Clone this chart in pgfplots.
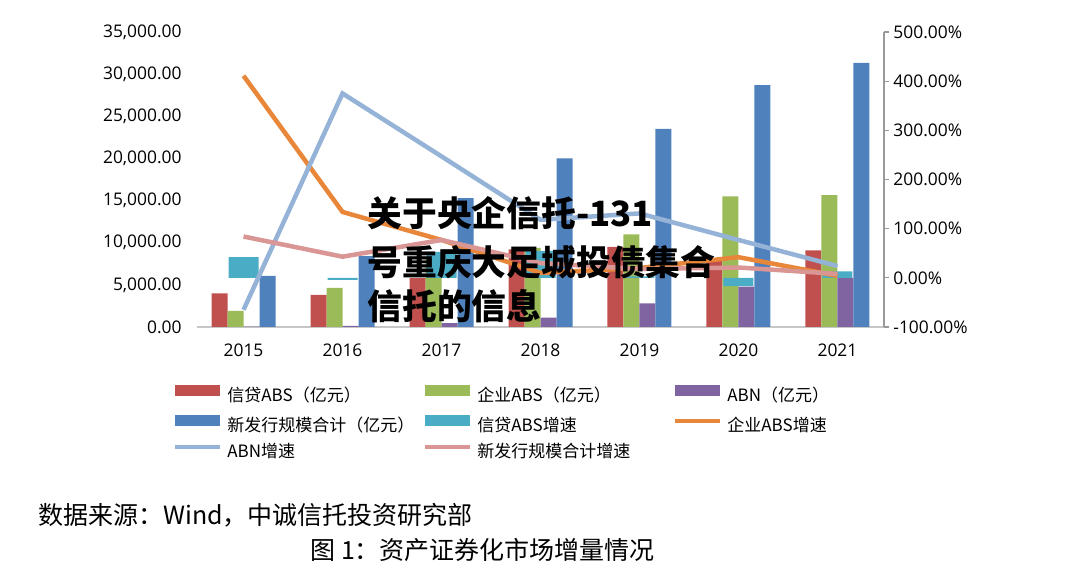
\documentclass[border=0pt]{standalone}
\usepackage{fontspec}
\setmainfont{Noto Sans CJK SC}
\newfontfamily\numfont{Open Sans}
\usepackage{pgfplots}
\pgfplotsset{compat=1.18}
\definecolor{cRed}{HTML}{C0504D}
\definecolor{cGreen}{HTML}{9BBB59}
\definecolor{cPurple}{HTML}{8064A2}
\definecolor{cBlue}{HTML}{4F81BD}
\definecolor{cTeal}{HTML}{4BACC6}
\definecolor{cOrange}{HTML}{E8873A}
\definecolor{cAbn}{HTML}{95B3D7}
\definecolor{cPink}{HTML}{D99694}
\pgfplotsset{
  barleg/.style={legend image code/.code={\fill[##1] (0pt,0.3pt) rectangle (22.5pt,5.8pt);}},
  lineleg/.style={legend image code/.code={\draw[##1] (0pt,3pt) -- (22.5pt,3pt);}},
}
\newcommand{\legtxt}[1]{\makebox[100.5pt][l]{\hspace{2.5pt}#1}}
\begin{document}
\begin{tikzpicture}[x=1pt,y=1pt]
\path[use as bounding box] (0,0) rectangle (540,290.5);
\begin{axis}[
  at={(98.5pt,127pt)}, anchor=south west,
  scale only axis, width=343.5pt, height=147.5pt,
  xmin=-0.47, xmax=6.47, ymin=0, ymax=35000,
  ybar, bar width=8pt,
  axis x line*=bottom, axis y line*=left,
  y axis line style={draw=none},
  x axis line style={draw=black!22, line width=0.8pt},
  xtick={0,...,6}, xticklabels={2015,2016,2017,2018,2019,2020,2021},
  ytick={0,5000,...,35000},
  major tick length=0pt,
  scaled y ticks=false,
  /pgf/number format/assume math mode=true,
  ticklabel style={font=\numfont\fontsize{8.7}{10}\selectfont, text=black},
  xticklabel style={inner sep=0pt, anchor=north, yshift=-8pt},
  yticklabel style={inner sep=0pt, anchor=east, xshift=-7.5pt,
    /pgf/number format/.cd, fixed, fixed zerofill, precision=2, 1000 sep={,}},
]
\addplot[fill=cRed, draw=none, bar shift=-12pt] coordinates {(0,4000) (1,3800) (2,5800) (3,9200) (4,9500) (5,8000) (6,9100)};
\addplot[fill=cGreen, draw=none, bar shift=-4pt] coordinates {(0,1900) (1,4650) (2,8300) (3,9400) (4,11000) (5,15500) (6,15650)};
\addplot[fill=cPurple, draw=none, bar shift=4pt] coordinates {(0,30) (1,140) (2,470) (3,1100) (4,2800) (5,4800) (6,5800)};
\addplot[fill=cBlue, draw=none, bar shift=12pt] coordinates {(0,6050) (1,8400) (2,15300) (3,20000) (4,23500) (5,28700) (6,31350)};
\end{axis}
\begin{axis}[
  at={(98.5pt,127pt)}, anchor=south west,
  scale only axis, width=343.5pt, height=147.5pt,
  xmin=-0.47, xmax=6.47, ymin=-100, ymax=500,
  axis x line=none, axis y line*=right,
  y axis line style={draw=black!40, line width=0.6pt},
  ytick={-100,0,...,500},
  major tick length=2.5pt, tick align=outside,
  ytick style={draw=black!40, line width=0.6pt},
  /pgf/number format/assume math mode=true,
  yticklabel={\pgfmathprintnumber[fixed,fixed zerofill,precision=2]{\tick}\%},
  ticklabel style={font=\numfont\fontsize{8.7}{10}\selectfont, text=black},
  yticklabel style={inner sep=0pt, anchor=west, xshift=2pt},
  no markers,
  legend style={at={(axis description cs:0,0)}, anchor=north west,
    xshift=-12pt, yshift=-29pt, draw=none, fill=none, inner sep=0pt,
    row sep=5pt, column sep=0pt,
    nodes={inner sep=0pt, text height=6.5pt, text depth=1.5pt},
    font=\fontsize{8.5}{10}\selectfont},
  legend columns=3, legend cell align=left,
]
\addplot[ybar, bar width=15pt, fill=cTeal, draw=none, forget plot] coordinates {(0,42) (1,-4) (2,53) (3,55) (4,3) (5,-17) (6,13)};
\addplot[cOrange, line width=2.25pt, forget plot] coordinates {(0,411) (1,134) (2,77) (3,10) (4,20) (5,42) (6,4)};
\addplot[cAbn, line width=2.25pt, forget plot] coordinates {(0,-65) (1,375) (2,247) (3,118) (4,131) (5,77) (6,24)};
\addplot[cPink, line width=2.25pt, forget plot] coordinates {(0,84) (1,43) (2,77) (3,30) (4,18) (5,21) (6,8)};
\addlegendimage{fill=cRed, draw=none, barleg}\addlegendentry{\legtxt{信贷ABS（亿元）}}
\addlegendimage{fill=cGreen, draw=none, barleg}\addlegendentry{\legtxt{企业ABS（亿元）}}
\addlegendimage{fill=cPurple, draw=none, barleg}\addlegendentry{\legtxt{ABN（亿元）}}
\addlegendimage{fill=cBlue, draw=none, barleg}\addlegendentry{\legtxt{新发行规模合计（亿元）}}
\addlegendimage{fill=cTeal, draw=none, barleg}\addlegendentry{\legtxt{信贷ABS增速}}
\addlegendimage{draw=cOrange, line width=2pt, lineleg}\addlegendentry{\legtxt{企业ABS增速}}
\addlegendimage{draw=cAbn, line width=2pt, lineleg}\addlegendentry{\legtxt{ABN增速}}
\addlegendimage{draw=cPink, line width=2pt, lineleg}\addlegendentry{\legtxt{新发行规模合计增速}}
\end{axis}
\node[anchor=west, inner sep=0pt, font=\fontsize{17.4}{20}\selectfont\bfseries] at (183.5,184) {关于央企信托-131};
\node[anchor=west, inner sep=0pt, font=\fontsize{17.4}{20}\selectfont\bfseries] at (183.5,159.5) {号重庆大足城投债集合};
\node[anchor=west, inner sep=0pt, font=\fontsize{17.4}{20}\selectfont\bfseries] at (183.5,137.5) {信托的信息};
\node[anchor=west, inner sep=0pt, font=\fontsize{12.5}{14}\selectfont] at (19,33) {数据来源：Wind，中诚信托投资研究部};
\node[anchor=west, inner sep=0pt, font=\fontsize{12.5}{14}\selectfont] at (155,15.5) {图 1：资产证券化市场增量情况};
\end{tikzpicture}
\end{document}
